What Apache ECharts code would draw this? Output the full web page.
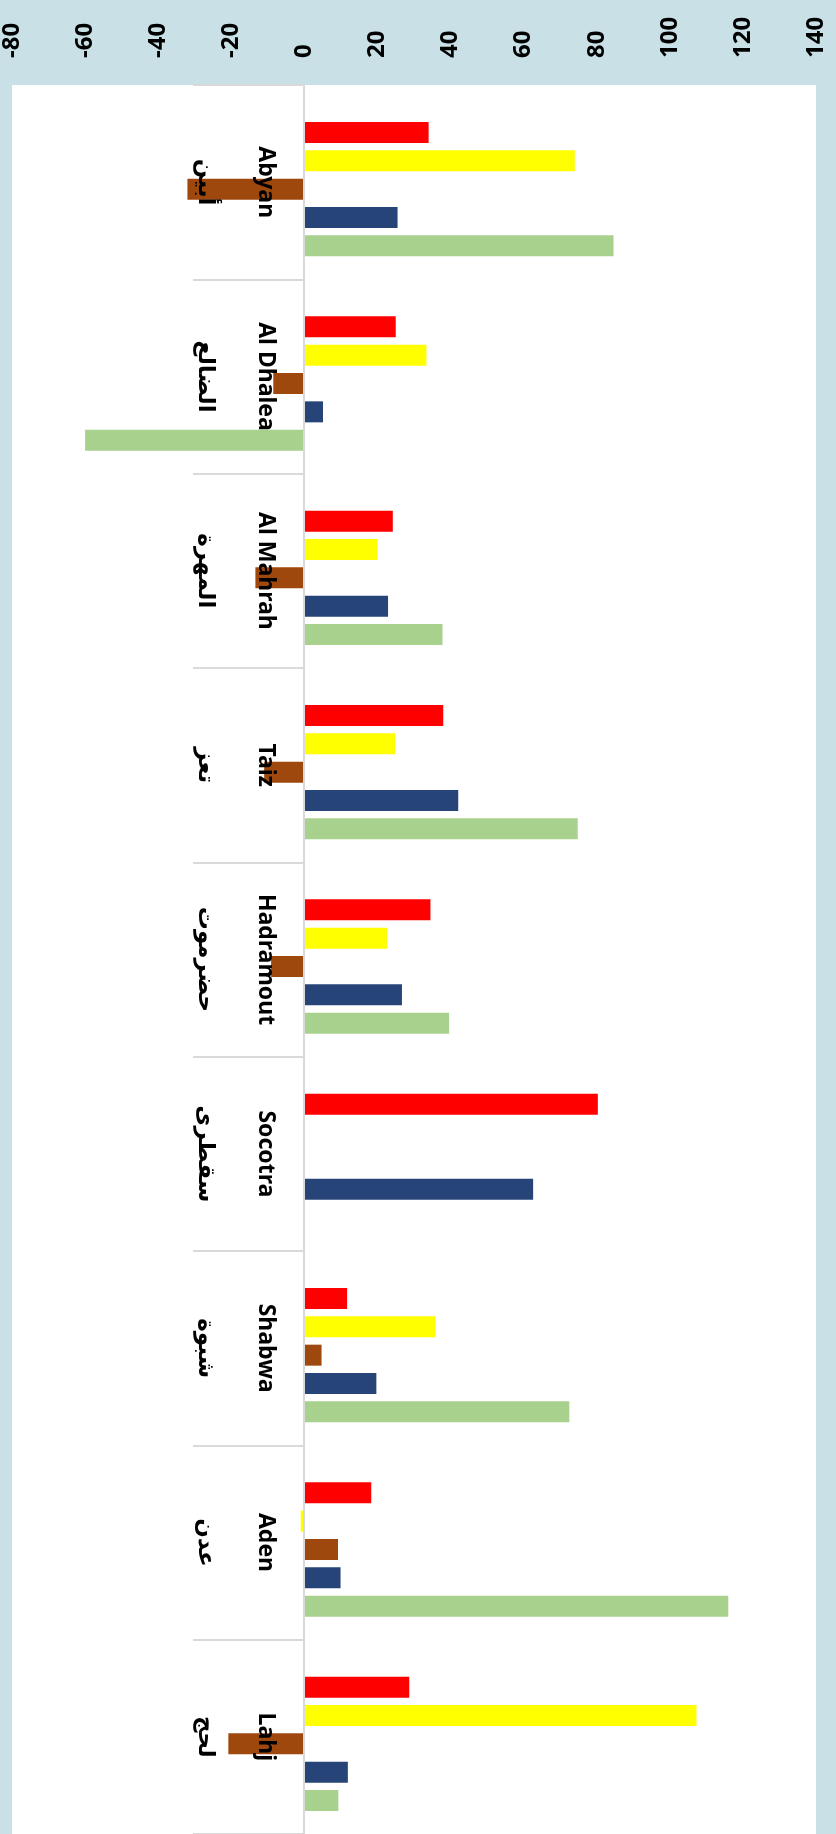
<!DOCTYPE html>
<html lang="en" style="height: 100%">
<head>
  <meta charset="utf-8">
</head>
<body style="height: 100%; margin: 0; background: #C9E1E6">
  <div id="container" style="width: 836px; height: 1834px"></div>

  <script type="text/javascript" src="https://cdn.jsdelivr.net/npm/echarts@6/dist/echarts.min.js"></script>
  <script type="text/javascript">
    var dom = document.getElementById('container');
    var myChart = echarts.init(dom, null, { renderer: 'canvas' });

// governorates, top to bottom
var regionsEn = ['Abyan', 'Al Dhalea', 'Al Mahrah', 'Taiz', 'Hadramout', 'Socotra', 'Shabwa', 'Aden', 'Lahj'];
var regionsAr = ['أبين', 'الضالع', 'المهرة', 'تعز', 'حضرموت', 'سقطرى', 'شبوة', 'عدن', 'لحج'];

// five series, same order as the bars inside each group
var redVals    = [34, 25, 24.2, 38, 34.5, 80.3, 11.7, 18.3, 28.7];
var yellowVals = [74, 33.4, 20, 24.8, 22.6, null, 35.9, -1, 107.3];
var brownVals  = [-32, -8.5, -13.4, -11, -9.1, null, 4.7, 9.2, -20.8];
var blueVals   = [25.5, 5.1, 22.9, 42.1, 26.7, 62.6, 19.7, 9.9, 11.9];
var greenVals  = [84.6, -60, 37.8, 74.8, 39.6, null, 72.5, 116, 9.3];

var seriesColors = ['#FF0000', '#FFFF00', '#9E480E', '#264478', '#A9D18E'];
var categories = regionsEn.map(function (n, i) { return n + '\n' + regionsAr[i]; });

var txtFont = '"Noto Sans", "DejaVu Sans", sans-serif';

function barSeries(data, idx) {
  return {
    type: 'bar',
    xAxisIndex: 1,
    yAxisIndex: 1,
    data: data,
    barWidth: 21,
    barGap: '35%',
    itemStyle: { color: seriesColors[idx] }
  };
}

var option = {
  backgroundColor: '#C9E1E6',
  animation: false,
  grid: [
    // white plot area + value labels
    { left: 12, right: 20, top: 85, height: 1749, show: true, backgroundColor: '#ffffff', borderWidth: 0, containLabel: false, outerBoundsMode: 'none' },
    // bars (sit a little below the band centre, like the source)
    { left: 12, right: 20, top: 92, height: 1749, containLabel: false, outerBoundsMode: 'none' },
    // category axis, starting at the zero line
    { left: 304, right: 20, top: 85, height: 1749, containLabel: false, outerBoundsMode: 'none' }
  ],
  xAxis: [
    {
      gridIndex: 0,
      type: 'value',
      position: 'top',
      min: -80,
      max: 140,
      interval: 20,
      splitLine: { show: false },
      axisLine: { show: false },
      axisTick: { show: false },
      axisLabel: {
        rotate: -90,
        margin: 27,
        color: '#000',
        fontSize: 24,
        fontWeight: 'bold',
        fontFamily: txtFont
      }
    },
    { gridIndex: 1, type: 'value', min: -80, max: 140, show: false },
    { gridIndex: 2, type: 'value', min: 0, max: 140, show: false }
  ],
  yAxis: [
    { gridIndex: 0, type: 'category', data: categories, show: false },
    { gridIndex: 1, type: 'category', inverse: true, data: categories, show: false },
    {
      gridIndex: 2,
      type: 'category',
      inverse: true,
      data: categories,
      z: 10,
      axisLine: { onZero: false, lineStyle: { color: '#D9D9D9', width: 2 } },
      axisTick: { show: true, length: 111, interval: 0, lineStyle: { color: '#D9D9D9', width: 2 } },
      axisLabel: {
        interval: 0,
        rotate: -90,
        margin: 8,
        color: '#000',
        fontSize: 23,
        fontWeight: 'bold',
        lineHeight: 60,
        fontFamily: txtFont
      }
    }
  ],
  series: [
    barSeries(redVals, 0),
    barSeries(yellowVals, 1),
    barSeries(brownVals, 2),
    barSeries(blueVals, 3),
    barSeries(greenVals, 4)
  ]
};

myChart.setOption(option);
window.addEventListener('resize', myChart.resize);
  </script>
</body>
</html>
